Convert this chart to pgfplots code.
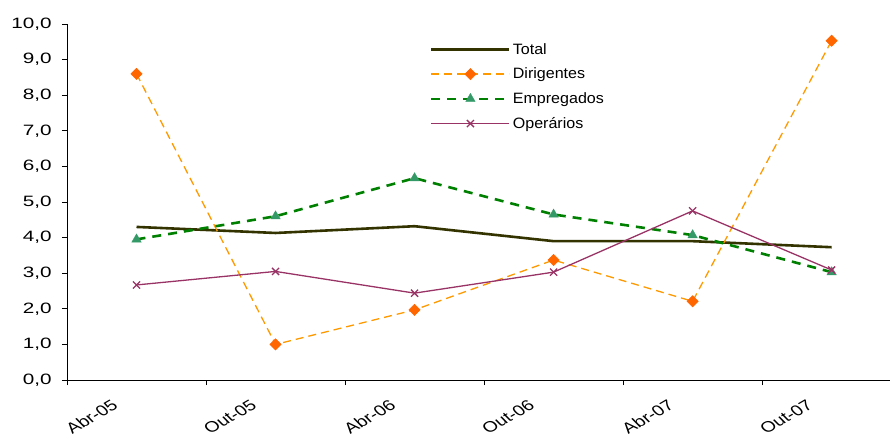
\documentclass[border=0pt]{standalone}
\usepackage{pgfplots}
\pgfplotsset{compat=1.18}
\usepackage{fontspec}
\setmainfont{Liberation Sans}
\definecolor{ctotal}{HTML}{333300}
\definecolor{cdir}{HTML}{FF9900}
\definecolor{cdirm}{HTML}{FF6600}
\definecolor{cemp}{HTML}{008000}
\definecolor{cempm}{HTML}{339966}
\definecolor{cope}{HTML}{993366}
\begin{document}
\begin{tikzpicture}
\begin{axis}[
  at={(0,0)}, anchor=south west,
  scale only axis, width=823pt, height=356pt,
  xmin=-0.5, xmax=5.42, ymin=0, ymax=10,
  axis lines=left, axis line style={-, black, line width=0.8pt},
  ytick={0,1,...,10},
  /pgf/number format/fixed, /pgf/number format/fixed zerofill,
  /pgf/number format/precision=1, /pgf/number format/use comma,
  /pgf/number format/assume math mode=true,
  yticklabel style={font=\fontsize{15}{15}\selectfont, xscale=1.38, xshift=-4pt},
  xtick={-0.5,0.5,1.5,2.5,3.5,4.5}, xticklabels={},
  extra x ticks={0,1,2,3,4,5},
  extra x tick labels={Abr-05,Out-05,Abr-06,Out-06,Abr-07,Out-07},
  extra x tick style={major tick length=0pt, xticklabel style={font=\fontsize{15}{15}\selectfont, xshift=-25pt, yshift=-14pt, xscale=1.3, rotate=37, anchor=north east}},
  tick align=outside, major tick length=5pt,
  tick style={black, line width=0.8pt},
  clip=false,
  legend style={at={(0.441,0.952)}, anchor=north west, draw=none, fill=none,
    font=\fontsize{15}{15}\selectfont, row sep=8.3pt, inner sep=0pt,
    nodes={xscale=1.07}},
  legend cell align=left,
  legend image code/.code={\draw[mark repeat=2,mark phase=2] plot coordinates {(0pt,0pt) (39pt,0pt) (78pt,0pt)};},
]
\addplot[ctotal, line width=2.6pt, mark=none] coordinates {(0,4.30) (1,4.13) (2,4.32) (3,3.90) (4,3.90) (5,3.73)};
\addlegendentry{Total}
\addplot[cdir, line width=1.3pt, dash pattern=on 8pt off 5pt, mark=square*, mark size=4pt, mark options={solid, rotate=45, fill=cdirm, draw=cdirm, line width=0.5pt}] coordinates {(0,8.60) (1,1.00) (2,1.97) (3,3.37) (4,2.21) (5,9.53)};
\addlegendentry{Dirigentes}
\addplot[cemp, line width=2.6pt, dash pattern=on 9pt off 7pt, mark=triangle*, mark size=5.5pt, mark options={solid, fill=cempm, draw=cempm, line width=0.3pt}] coordinates {(0,3.95) (1,4.60) (2,5.67) (3,4.65) (4,4.07) (5,3.03)};
\addlegendentry{Empregados}
\addplot[cope, line width=1.3pt, mark=x, mark size=5pt, mark options={solid, line width=1.3pt}] coordinates {(0,2.67) (1,3.05) (2,2.44) (3,3.03) (4,4.75) (5,3.09)};
\addlegendentry{Operários}
\end{axis}
\pgfresetboundingbox
\path[use as bounding box] (-67pt,-60pt) rectangle (823pt,380pt);
\end{tikzpicture}
\end{document}
